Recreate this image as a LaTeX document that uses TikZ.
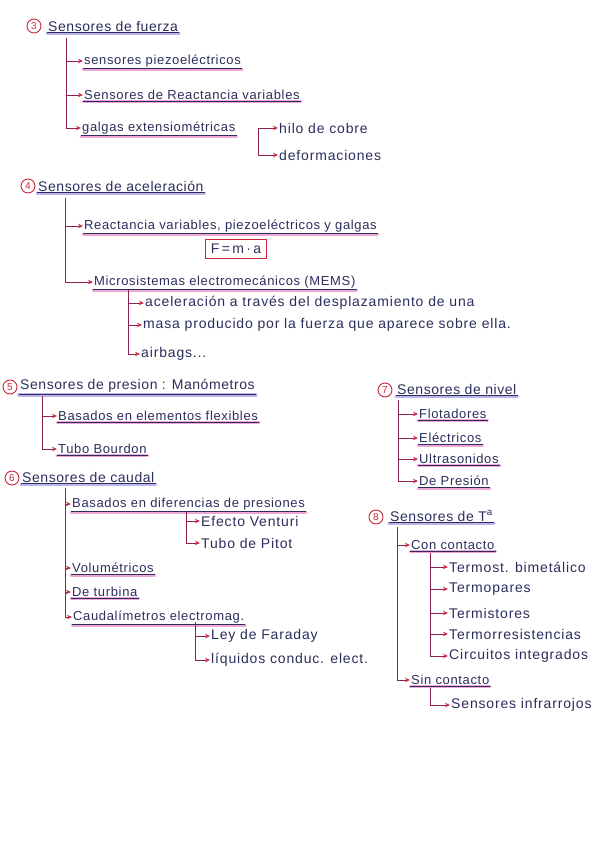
\documentclass[tikz,border=0pt]{standalone}
\usepackage{fontspec}
\setmainfont{Liberation Sans}
\newfontfamily\headhand[LetterSpace=4]{Liberation Sans}
\newfontfamily\itemhand[LetterSpace=5]{Liberation Sans}
\newfontfamily\leafhand[LetterSpace=6]{Liberation Sans}
\usetikzlibrary{arrows.meta}

\definecolor{ink}{HTML}{2B2D5C}
\definecolor{stem}{HTML}{8E1F55}
\definecolor{tipred}{HTML}{D02845}
\definecolor{hlblue}{HTML}{8F84E0}
\definecolor{hlpink}{HTML}{E46DBA}
\definecolor{numred}{HTML}{C8283C}

\begin{document}
\begin{tikzpicture}[x=1pt,y=-1pt]
    % Define styles
    \tikzstyle{hlhead} = [draw=hlblue, line width=3.5pt, opacity=0.6, line cap=round]
    \tikzstyle{hlitem} = [draw=hlpink, line width=3pt, opacity=0.6, line cap=round]
    \tikzstyle{inkline} = [draw=ink, line width=0.5pt]
    \tikzstyle{head} = [anchor=west, inner sep=1pt, text=ink, font=\headhand\fontsize{14}{16}\selectfont,
        append after command={([yshift=-1pt]\tikzlastnode.south west) edge[hlhead] ([yshift=-1pt]\tikzlastnode.south east)
            (\tikzlastnode.south west) edge[inkline] (\tikzlastnode.south east)}]
    \tikzstyle{item} = [anchor=west, inner sep=1pt, text=ink, font=\itemhand\fontsize{13}{15}\selectfont,
        append after command={([yshift=-1pt]\tikzlastnode.south west) edge[hlitem] ([yshift=-1pt]\tikzlastnode.south east)
            (\tikzlastnode.south west) edge[inkline] (\tikzlastnode.south east)}]
    \tikzstyle{leaf} = [anchor=west, inner sep=1pt, text=ink, font=\leafhand\fontsize{14}{16}\selectfont]
    \tikzstyle{num} = [circle, draw=numred, text=numred, line width=0.9pt, inner sep=0pt, minimum size=14pt, font=\fontsize{10}{11}\selectfont]
    \tikzstyle{branch} = [draw=stem, line width=0.9pt, -{Stealth[length=5pt, width=4.5pt, color=tipred]}]
    \tikzstyle{formula} = [draw=numred, line width=1pt, text=ink, inner sep=5pt, font=\fontsize{14}{16}\selectfont]

    \useasboundingbox (0,0) rectangle (600,848);

    % 3: Sensores de fuerza
    \node[num] (n3) at (34,26) {3};
    \node[head] (fuerza) at (47,26) {Sensores de fuerza};
    \coordinate (fuerzat) at (66,38);
    \node[item] (piezo) at (83,61) {sensores piezoeléctricos};
    \node[item] (reactancia) at (83,95) {Sensores de Reactancia variables};
    \node[item] (galgas) at (81,128) {galgas extensiométricas};
    \coordinate (galgast) at (258,128);
    \node[leaf] (hilo) at (278,128) {hilo de cobre};
    \node[leaf] (deform) at (278,155) {deformaciones};
    \draw[branch] (fuerzat) |- (piezo.west);
    \draw[branch] (fuerzat) |- (reactancia.west);
    \draw[branch] (fuerzat) |- (galgas.west);
    \draw[branch] (galgast) -- (hilo.west);
    \draw[branch] (galgast) |- (deform.west);

    % 4: Sensores de aceleracion
    \node[num] (n4) at (28,186) {4};
    \node[head] (acel) at (37,186) {Sensores de aceleración};
    \coordinate (acelt) at (65,198);
    \node[item] (rvpg) at (83,226) {Reactancia variables, piezoeléctricos y galgas};
    \node[formula] (fma) at (236,249) {F\,=\,m\,·\,a};
    \node[item] (mems) at (93,282) {Microsistemas electromecánicos (MEMS)};
    \coordinate (memst) at (128,290);
    \node[leaf] (desp) at (144,303) {aceleración a través del desplazamiento de una};
    \node[leaf] (masa) at (142,325) {masa producido por la fuerza que aparece sobre ella.};
    \node[leaf] (airbags) at (140,354) {airbags...};
    \draw[branch] (acelt) |- (rvpg.west);
    \draw[branch] (acelt) |- (mems.west);
    \draw[branch] (memst) |- (desp.west);
    \draw[branch] (memst) |- (masa.west);
    \draw[branch] (memst) |- (airbags.west);

    % 5: Sensores de presion
    \node[num] (n5) at (10,387) {5};
    \node[head] (presion) at (19,386) {Sensores de presion : Manómetros};
    \coordinate (presiont) at (42,396);
    \node[item] (flex) at (57,416) {Basados en elementos flexibles};
    \node[item] (tubo) at (57,449) {Tubo Bourdon};
    \draw[branch] (presiont) |- (flex.west);
    \draw[branch] (presiont) |- (tubo.west);

    % 6: Sensores de caudal
    \node[num] (n6) at (12,478) {6};
    \node[head] (caudal) at (21,477) {Sensores de caudal};
    \coordinate (caudalt) at (65,488);
    \node[item] (difp) at (71,504) {Basados en diferencias de presiones};
    \coordinate (difpt) at (186,512);
    \node[leaf] (venturi) at (200,521) {Efecto Venturi};
    \node[leaf] (pitot) at (200,543) {Tubo de Pitot};
    \node[item] (volum) at (71,568) {Volumétricos};
    \node[item] (turbina) at (71,592) {De turbina};
    \node[item] (electrom) at (72,617) {Caudalímetros electromag.};
    \coordinate (electromt) at (195,622);
    \node[leaf] (faraday) at (210,636) {Ley de Faraday};
    \node[leaf] (liquidos) at (210,660) {líquidos conduc. elect.};
    \draw[branch] (caudalt) |- (difp.west);
    \draw[branch] (caudalt) |- (volum.west);
    \draw[branch] (caudalt) |- (turbina.west);
    \draw[branch] (caudalt) |- (electrom.west);
    \draw[branch] (difpt) |- (venturi.west);
    \draw[branch] (difpt) |- (pitot.west);
    \draw[branch] (electromt) |- (faraday.west);
    \draw[branch] (electromt) |- (liquidos.west);

    % 7: Sensores de nivel
    \node[num] (n7) at (385,390) {7};
    \node[head] (nivel) at (396,389) {Sensores de nivel};
    \coordinate (nivelt) at (398,400);
    \node[item] (flot) at (418,414) {Flotadores};
    \node[item] (electr) at (418,438) {Eléctricos};
    \node[item] (ultra) at (418,459) {Ultrasonidos};
    \node[item] (depres) at (418,481) {De Presión};
    \draw[branch] (nivelt) |- (flot.west);
    \draw[branch] (nivelt) |- (electr.west);
    \draw[branch] (nivelt) |- (ultra.west);
    \draw[branch] (nivelt) |- (depres.west);

    % 8: Sensores de temperatura
    \node[num] (n8) at (376,517) {8};
    \node[head] (temp) at (389,516) {Sensores de T\textsuperscript{a}};
    \coordinate (tempt) at (397,527);
    \node[item] (con) at (410,545) {Con contacto};
    \coordinate (cont) at (430,553);
    \node[leaf] (bimet) at (448,567) {Termost. bimetálico};
    \node[leaf] (termopar) at (448,589) {Termopares};
    \node[leaf] (termist) at (448,613) {Termistores};
    \node[leaf] (termores) at (448,634) {Termorresistencias};
    \node[leaf] (circ) at (448,656) {Circuitos integrados};
    \node[item] (sin) at (410,680) {Sin contacto};
    \coordinate (sint) at (430,688);
    \node[leaf] (infra) at (450,705) {Sensores infrarrojos};
    \draw[branch] (tempt) |- (con.west);
    \draw[branch] (tempt) |- (sin.west);
    \draw[branch] (cont) |- (bimet.west);
    \draw[branch] (cont) |- (termopar.west);
    \draw[branch] (cont) |- (termist.west);
    \draw[branch] (cont) |- (termores.west);
    \draw[branch] (cont) |- (circ.west);
    \draw[branch] (sint) |- (infra.west);

\end{tikzpicture}
\end{document}
